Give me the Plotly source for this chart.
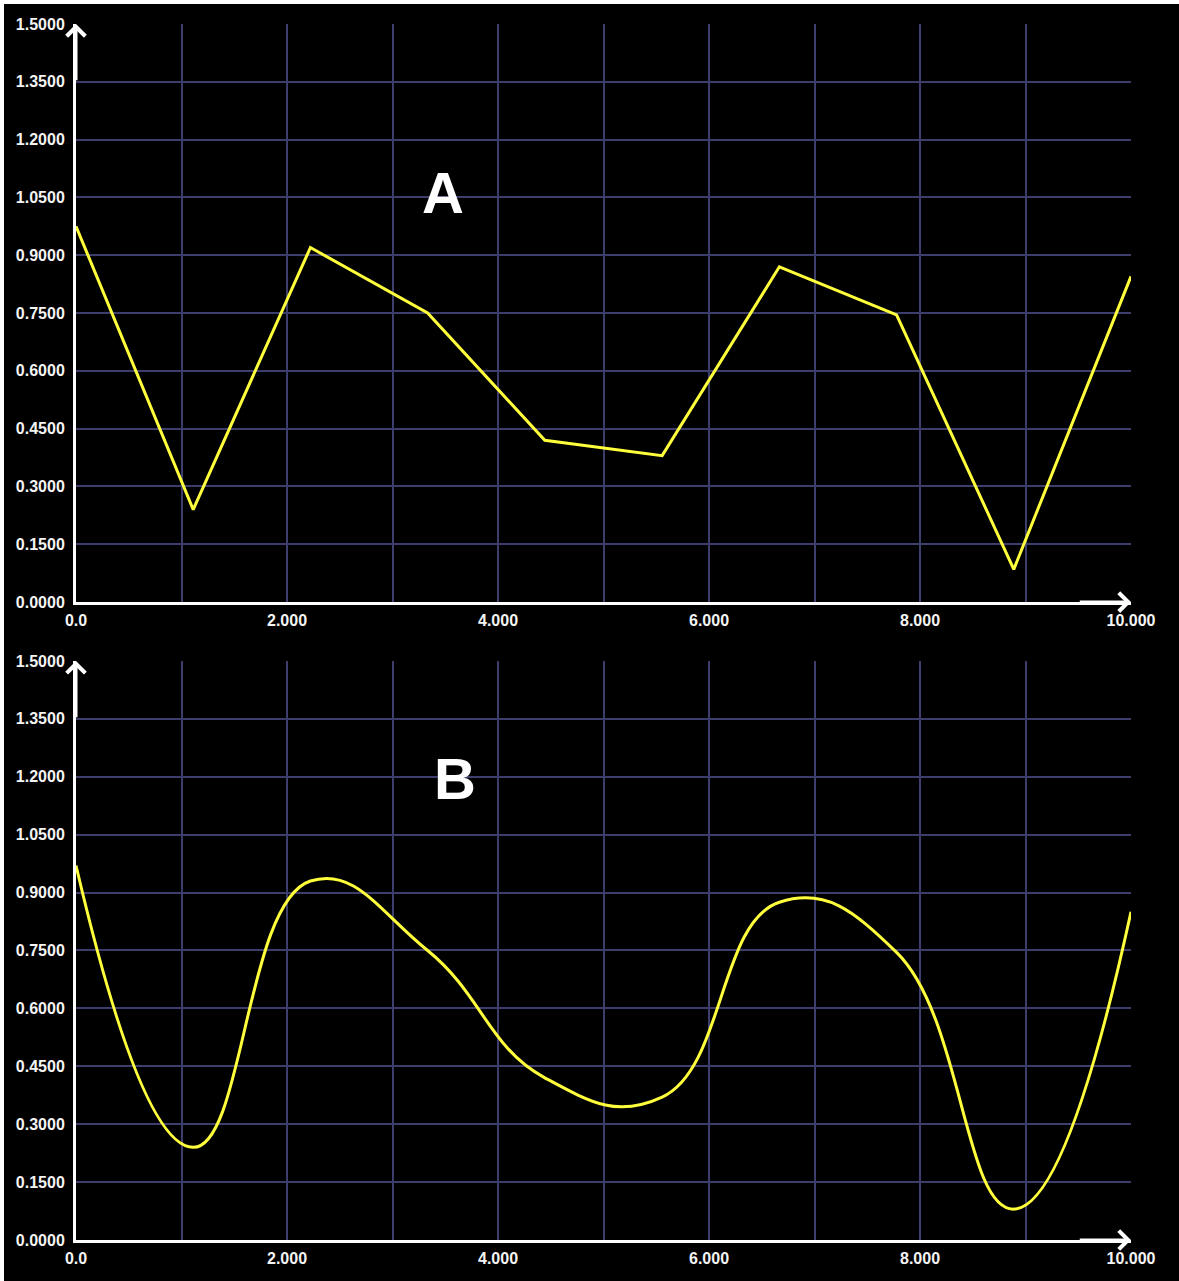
import plotly.graph_objects as go

# ---- data ----
x_values = [0.0, 1.111, 2.222, 3.333, 4.444, 5.556, 6.667, 7.778, 8.889, 10.0]
y_values_a = [0.975, 0.24, 0.92, 0.75, 0.42, 0.38, 0.87, 0.745, 0.085, 0.845]
y_values_b = [0.97, 0.24, 0.93, 0.75, 0.42, 0.37, 0.875, 0.745, 0.08, 0.85]

x_tick_vals = [0, 1, 2, 3, 4, 5, 6, 7, 8, 9, 10]
x_tick_text = ["0.0", "", "2.000", "", "4.000", "", "6.000", "", "8.000", "", "10.000"]
y_tick_vals = [0.0, 0.15, 0.30, 0.45, 0.60, 0.75, 0.90, 1.05, 1.20, 1.35, 1.50]
y_tick_text = ["0.0000", "0.1500", "0.3000", "0.4500", "0.6000", "0.7500",
               "0.9000", "1.0500", "1.2000", "1.3500", "1.5000"]
panel_labels = ["A", "B"]

GRID = "rgb(62,62,108)"
LINE = "#ffff3c"
FONT = dict(family="Liberation Sans", size=16, color="#f4f4f4", weight="bold")

fig = go.Figure()
fig.add_trace(go.Scatter(x=x_values, y=y_values_a, mode="lines",
                         line=dict(color=LINE, width=3), xaxis="x", yaxis="y",
                         showlegend=False, hoverinfo="skip"))
fig.add_trace(go.Scatter(x=x_values, y=y_values_b, mode="lines",
                         line=dict(color=LINE, width=3, shape="spline", smoothing=1.3),
                         xaxis="x2", yaxis="y2", showlegend=False, hoverinfo="skip"))

def xax(anchor):
    return dict(range=[0, 10], tickvals=x_tick_vals, ticktext=x_tick_text,
                showgrid=True, gridcolor=GRID, gridwidth=1.5, zeroline=False,
                showline=True, linecolor="white", linewidth=3, ticks="",
                tickfont=FONT, anchor=anchor, domain=[0, 1], ticklabelstandoff=2)

def yax(anchor, dom):
    return dict(range=[0, 1.5], tickvals=y_tick_vals, ticktext=y_tick_text,
                showgrid=True, gridcolor=GRID, gridwidth=1.5, zeroline=False,
                showline=True, linecolor="white", linewidth=3, ticks="",
                tickfont=FONT, anchor=anchor, domain=dom, ticklabelstandoff=5)

fig.update_layout(
    width=1175, height=1277,
    paper_bgcolor="black", plot_bgcolor="black",
    margin=dict(l=66, r=48, t=16, b=41),
    xaxis=xax("y"), yaxis=yax("x", [0.5246, 1.0]),
    xaxis2=xax("y2"), yaxis2=yax("x2", [0.0, 0.4762]),
)

annotations = []
for xr, yr in [("x", "y"), ("x2", "y2")]:
    # x-axis arrow
    annotations.append(dict(x=10.0, y=0, ax=9.5, ay=0, xref=xr, yref=yr,
                            axref=xr, ayref=yr, showarrow=True, arrowhead=4,
                            arrowsize=1.2, arrowwidth=3, arrowcolor="white", text=""))
    # y-axis arrow
    annotations.append(dict(x=0, y=1.5, ax=0, ay=1.35, xref=xr, yref=yr,
                            axref=xr, ayref=yr, showarrow=True, arrowhead=4,
                            arrowsize=1.2, arrowwidth=3, arrowcolor="white", text=""))

annotations.append(dict(x=3.48, y=1.063, xref="x", yref="y", text=panel_labels[0],
                        showarrow=False,
                        font=dict(family="Liberation Sans", size=58, color="white", weight="bold")))
annotations.append(dict(x=3.59, y=1.195, xref="x2", yref="y2", text=panel_labels[1],
                        showarrow=False,
                        font=dict(family="Liberation Sans", size=58, color="white", weight="bold")))
fig.update_layout(annotations=annotations)

fig.write_html("out.html",
               post_script="document.body.style.margin='4px 0 0 4px';"
                           "document.body.style.background='white';")
